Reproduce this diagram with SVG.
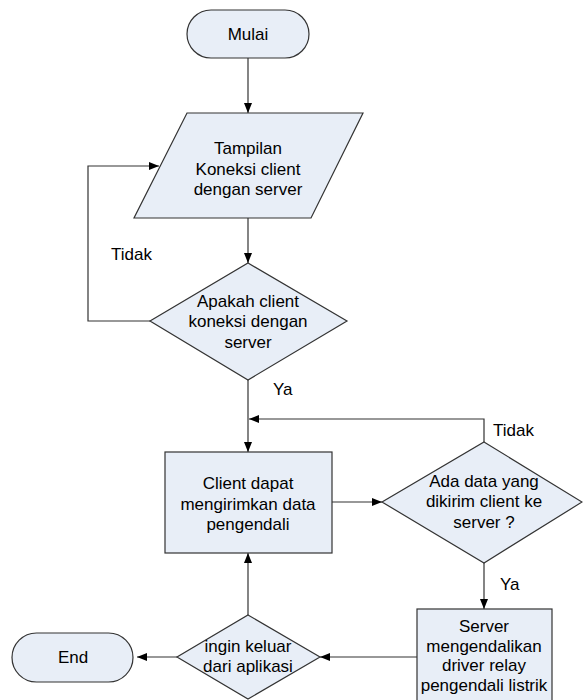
<svg xmlns="http://www.w3.org/2000/svg" width="583" height="700" viewBox="0 0 583 700">
<defs>
<marker id="arr" markerWidth="10" markerHeight="8" refX="10" refY="4" orient="auto" markerUnits="userSpaceOnUse">
<path d="M0,0 L10,4 L0,8 Z" fill="#000"/>
</marker>
<style>
.shape{fill:#e8eef7;stroke:#333;stroke-width:1.2}
.t{font-family:"Liberation Sans",Arial,sans-serif;font-size:17px;fill:#000;text-anchor:middle}
.lbl{font-family:"Liberation Sans",Arial,sans-serif;font-size:17px;fill:#000}
.c{fill:none;stroke:#333;stroke-width:1.2}
.ca{fill:none;stroke:#333;stroke-width:1.2;marker-end:url(#arr)}
</style>
</defs>
<rect width="583" height="700" fill="#fff"/>
<g id="connectors">
<line class="ca" x1="248" y1="58" x2="248" y2="113"/>
<line class="ca" x1="248" y1="218" x2="248" y2="263"/>
<polyline class="ca" points="150,321 88,321 88,166 159,166"/>
<line class="ca" x1="248" y1="380" x2="248" y2="452"/>
<polyline class="ca" points="484,442 484,419 249,419"/>
<line class="ca" x1="332" y1="502" x2="382" y2="502"/>
<line class="ca" x1="484" y1="563" x2="484" y2="609"/>
<line class="ca" x1="417" y1="657" x2="320" y2="657"/>
<line class="ca" x1="177" y1="657" x2="137" y2="657"/>
<line class="ca" x1="248" y1="615" x2="248" y2="553"/>
<text class="lbl" x="111" y="260">Tidak</text>
<text class="lbl" x="273" y="395">Ya</text>
<text class="lbl" x="493" y="436">Tidak</text>
<text class="lbl" x="500" y="590">Ya</text>
</g>
<g id="mulai">
<rect class="shape" x="187" y="10" width="122" height="48" rx="24" ry="24"/>
<text class="t" x="248" y="40">Mulai</text>
</g>
<g id="tampilan">
<polygon class="shape" points="187,113 363,113 311,218 134,218"/>
<text class="t" x="248" y="154">Tampilan</text>
<text class="t" x="248" y="175">Koneksi client</text>
<text class="t" x="248" y="195">dengan server</text>
</g>
<g id="cek-koneksi">
<polygon class="shape" points="248,263 347,321 248,380 150,321"/>
<text class="t" x="248" y="307">Apakah client</text>
<text class="t" x="248" y="327">koneksi dengan</text>
<text class="t" x="248" y="348">server</text>
</g>
<g id="kirim-data">
<rect class="shape" x="165" y="452" width="167" height="101"/>
<text class="t" x="248" y="489">Client dapat</text>
<text class="t" x="248" y="510">mengirimkan data</text>
<text class="t" x="248" y="530">pengendali</text>
</g>
<g id="ada-data">
<polygon class="shape" points="484,442 582,502 484,563 382,502"/>
<text class="t" x="484" y="487">Ada data yang</text>
<text class="t" x="484" y="507">dikirim client ke</text>
<text class="t" x="484" y="528">server ?</text>
</g>
<g id="server">
<rect class="shape" x="417" y="609" width="135" height="100"/>
<text class="t" x="484" y="632">Server</text>
<text class="t" x="484" y="652">mengendalikan</text>
<text class="t" x="484" y="671">driver relay</text>
<text class="t" x="484" y="691">pengendali listrik</text>
</g>
<g id="keluar">
<polygon class="shape" points="248,615 320,657 248,699 177,657"/>
<text class="t" x="248" y="652">ingin keluar</text>
<text class="t" x="248" y="672">dari aplikasi</text>
</g>
<g id="end">
<rect class="shape" x="12" y="633" width="121" height="49" rx="24.5" ry="24.5"/>
<text class="t" x="73" y="663">End</text>
</g>
</svg>
